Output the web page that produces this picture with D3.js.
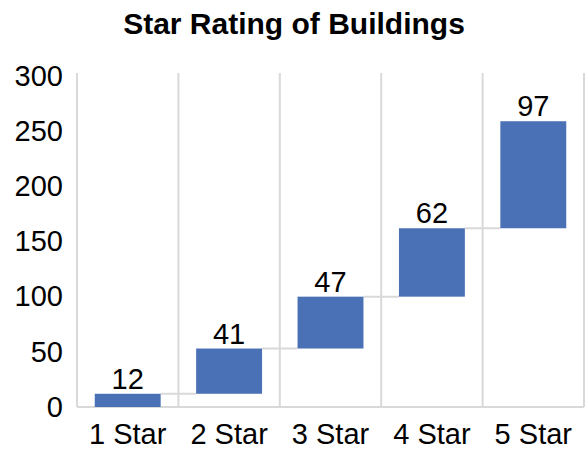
<!DOCTYPE html>
<html>
<head>
<meta charset="utf-8">
<script src="https://cdn.jsdelivr.net/npm/d3@7"></script>
<style>
  body { margin: 0; background: #fff; }
  text { font-family: "Liberation Sans", Arial, sans-serif; }
</style>
</head>
<body>
<div id="chart-area"></div>
<script>
// waterfall data
var categories = ["1 Star", "2 Star", "3 Star", "4 Star", "5 Star"];
var values = [12, 41, 47, 62, 97];
var yTicks = [0, 50, 100, 150, 200, 250, 300];

var W = 585, H = 450;
var margin = {top: 76, right: 1, bottom: 43, left: 77};
var width = W - margin.left - margin.right,
    height = H - margin.top - margin.bottom;
var fontSize = "29px";

var svg = d3.select("#chart-area").append("svg")
  .attr("width", W).attr("height", H);

svg.append("text")
  .attr("x", 294).attr("y", 34)
  .attr("text-anchor", "middle")
  .attr("font-size", "30px").attr("font-weight", "bold")
  .text("Star Rating of Buildings");

var g = svg.append("g")
  .attr("transform", "translate(" + margin.left + "," + margin.top + ")");

// running totals
var acc = 0;
var rows = categories.map(function(c, i) {
  var start = acc;
  acc += values[i];
  return {cat: c, value: values[i], start: start, end: acc};
});

var x = d3.scaleBand().domain(categories).range([0, width]).padding(0);
var y = d3.scaleLinear().domain([0, 300]).range([height, 0]);
var barW = x.bandwidth() * 0.65;
var gridColor = "#d9d9d9";

// vertical gridlines at category boundaries
var bounds = categories.map(function(c) { return x(c); }).concat([width]);
g.selectAll(".vgrid").data(bounds).enter().append("line")
  .attr("class", "vgrid")
  .attr("x1", function(d) { return d; }).attr("x2", function(d) { return d; })
  .attr("y1", -3).attr("y2", height)
  .attr("stroke", gridColor).attr("stroke-width", 2);

// baseline
g.append("line")
  .attr("x1", 0).attr("x2", width)
  .attr("y1", height).attr("y2", height)
  .attr("stroke", gridColor).attr("stroke-width", 2);

// connectors
g.selectAll(".conn").data(rows.slice(0, -1)).enter().append("line")
  .attr("class", "conn")
  .attr("x1", function(d) { return x(d.cat) + x.bandwidth() / 2 + barW / 2; })
  .attr("x2", function(d, i) { return x(categories[i + 1]) + x.bandwidth() / 2 - barW / 2; })
  .attr("y1", function(d) { return y(d.end); })
  .attr("y2", function(d) { return y(d.end); })
  .attr("stroke", gridColor).attr("stroke-width", 2);

// bars
g.selectAll("rect").data(rows).enter().append("rect")
  .attr("x", function(d) { return x(d.cat) + (x.bandwidth() - barW) / 2; })
  .attr("y", function(d) { return y(d.end); })
  .attr("width", barW)
  .attr("height", function(d) { return y(d.start) - y(d.end); })
  .attr("fill", "#4a71b5");

// value labels
g.selectAll(".lbl").data(rows).enter().append("text")
  .attr("class", "lbl")
  .attr("x", function(d) { return x(d.cat) + x.bandwidth() / 2; })
  .attr("y", function(d) { return y(d.end) - 5; })
  .attr("text-anchor", "middle")
  .attr("font-size", fontSize)
  .text(function(d) { return d.value; });

// y axis (labels only)
var yAxis = g.append("g").call(d3.axisLeft(y).tickValues(yTicks).tickSize(0).tickPadding(14));
yAxis.select(".domain").remove();
yAxis.selectAll("text").attr("font-size", fontSize).attr("fill", "#000")
  .style("font-family", "'Liberation Sans', Arial, sans-serif");

// x axis (labels only)
var xAxis = g.append("g").attr("transform", "translate(0," + height + ")")
  .call(d3.axisBottom(x).tickSize(0).tickPadding(16));
xAxis.select(".domain").remove();
xAxis.selectAll("text").attr("font-size", fontSize).attr("fill", "#000")
  .style("font-family", "'Liberation Sans', Arial, sans-serif");
</script>
</body>
</html>
